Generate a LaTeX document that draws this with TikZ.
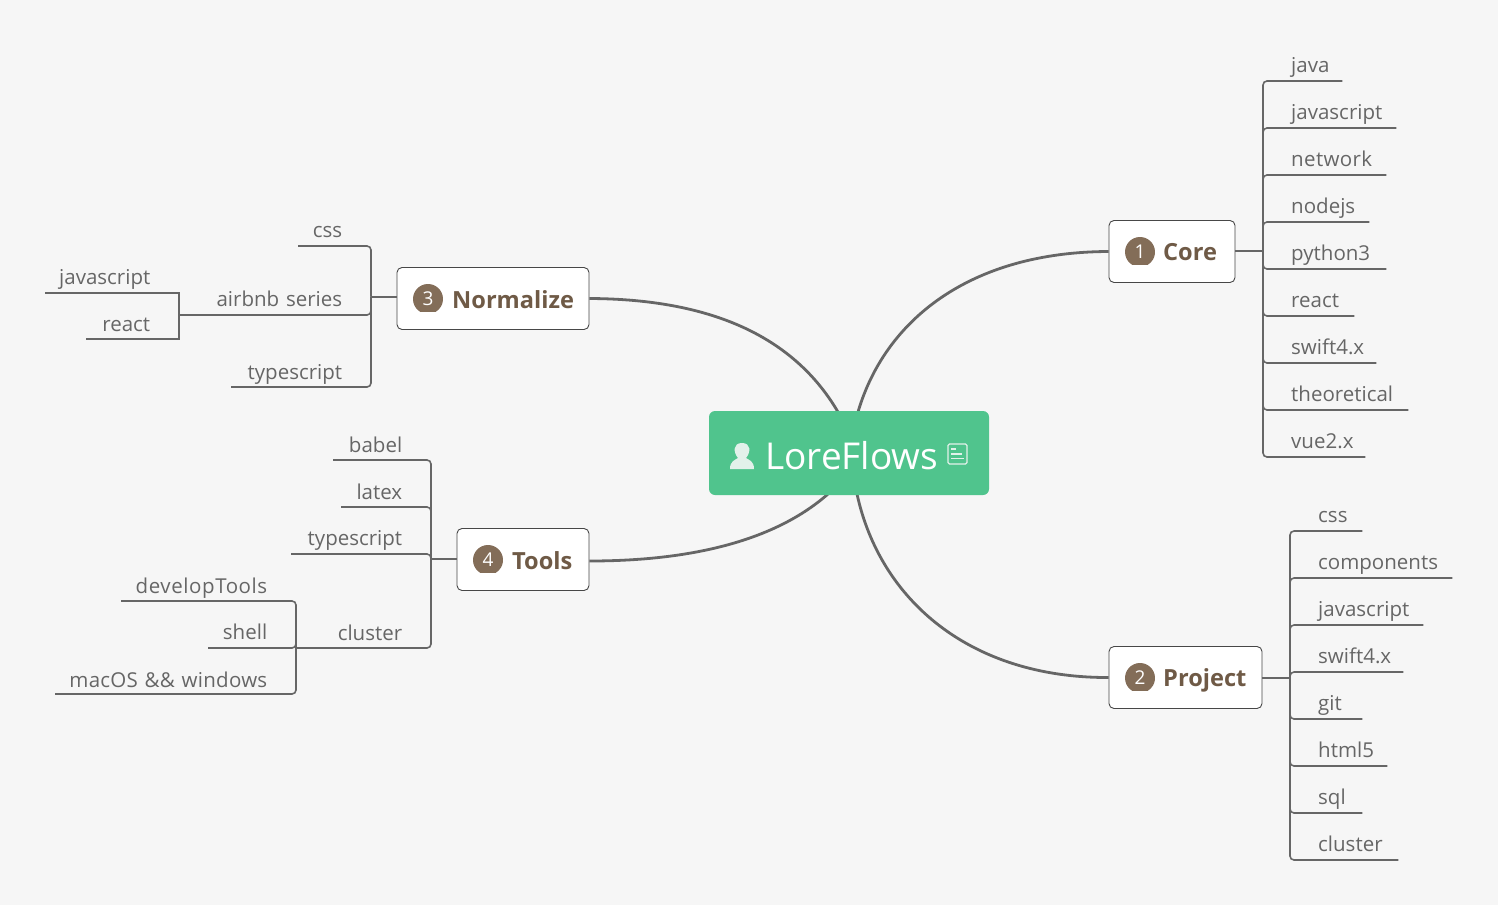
\documentclass[tikz,border=0pt]{standalone}
\usepackage{fontspec}
\setmainfont{Open Sans}
\usetikzlibrary{calc}
\definecolor{bgGrey}{HTML}{F6F6F6}
\definecolor{rootGreen}{HTML}{50C48D}
\definecolor{lineGrey}{HTML}{666666}
\definecolor{textGrey}{HTML}{666666}
\definecolor{topicBrown}{HTML}{6F5A46}
\definecolor{badgeBrown}{HTML}{836D58}
\definecolor{iconPale}{HTML}{E2F1EA}
\tikzset{
  root/.style={fill=rootGreen, rounded corners=6pt, minimum width=280pt, minimum height=84pt, inner sep=0pt},
  topic/.style={draw=black!72, line width=0.9pt, fill=white, rounded corners=5pt, minimum height=62pt, inner sep=0pt},
  topiclabel/.style={anchor=base west, inner sep=0pt, text=topicBrown, font=\fontsize{23.6}{24}\selectfont\bfseries},
  badgenum/.style={inner sep=0pt, text=white, font=\fontsize{19}{19}\selectfont},
  leafr/.style={anchor=south west, inner xsep=14pt, inner ysep=3pt, text=textGrey, text height=15pt, text depth=5pt, text width=#1pt, align=left, font=\fontsize{20.5}{20.5}\selectfont},
  leafl/.style={leafr=#1, align=right},
  toolleaf/.style={leafl=#1, inner ysep=2pt},
  spaced/.style={execute at begin node=\addfontfeature{LetterSpace=#1}},
  curve/.style={draw=lineGrey, line width=2.8pt},
  branch/.style={draw=lineGrey, line width=1.6pt, rounded corners=4pt},
  stub/.style={draw=lineGrey, line width=2pt},
}
% flat bottomed number badge
\newcommand{\badge}[3]{%
  \fill[badgeBrown] (#2) ++(120:15) arc[start angle=120, end angle=420, radius=15] -- cycle;
  \node[badgenum] (#1) at (#2) {#3};
}
\begin{document}
\begin{tikzpicture}[x=1pt, y=-1pt]
\useasboundingbox[fill=white] (0,0) rectangle (1507,910);
\fill[bgGrey] (0,0) rectangle (1498,905);

\coordinate (rootCore) at (858,412);
\coordinate (rootProject) at (857,494);
\coordinate (rootNorm) at (838,412);
\coordinate (rootTools) at (828,494);

% topics
\node[topic, minimum width=126pt] (core) at (1172,251.5) {};
\node[topic, minimum width=153pt] (project) at (1185.5,677.5) {};
\node[topic, minimum width=192pt] (norm) at (493,298.5) {};
\node[topic, minimum width=132pt] (tools) at (523,559.5) {};

\draw[curve] (rootCore) .. controls (885,320) and (970,252) .. (core.west);
\draw[curve] (rootProject) .. controls (880,600) and (970,678) .. (project.west);
\draw[curve] (rootNorm) .. controls (790,330) and (700,299) .. (norm.east);
\draw[curve] (rootTools) .. controls (770,545) and (680,561) .. ($(tools.east)+(0,1.5)$);

\node[root] (main) at (849,453) {};
\node[anchor=west, inner sep=0pt, text=white, font=\fontsize{37}{37}\selectfont] (mainText) at (765,456) {LoreFlows};
\fill[iconPale] (730,469) .. controls (730,461) and (735,460) .. (738,458) .. controls (733,452) and (733,443) .. (742,443)
  .. controls (751,443) and (751,452) .. (746,458) .. controls (749,460) and (754,461) .. (754,469) -- cycle;
\draw[iconPale, line width=1.1pt, rounded corners=1.5pt] (948,444) rectangle (967,464);
\draw[iconPale, line width=1.1pt] (951,449) -- (956,449) (951,454) -- (962,454) (951,458.5) -- (964,458.5);

\badge{coreNum}{1140,252}{1}
\node[topiclabel] (coreText) at (1163,260.8) {Core};
\badge{projectNum}{1140,678}{2}
\node[topiclabel] (projectText) at (1163,686.8) {Project};
\badge{normNum}{428,299}{3}
\node[topiclabel] (normText) at (452,308) {Normalize};
\badge{toolsNum}{488,560}{4}
\node[topiclabel] (toolsText) at (512,569) {Tools};

% core
\coordinate (coreJoin) at (1263,251);
\draw[stub] (coreJoin -| core.east) -- (coreJoin);
\node[leafr=37] (java) at (1277,81) {java};
\node[leafr=91] (javascript) at (1277,128) {javascript};
\node[leafr=81, spaced=1.7] (network) at (1277,175) {network};
\node[leafr=64] (nodejs) at (1277,222) {nodejs};
\node[leafr=81] (python) at (1277,269) {python3};
\node[leafr=49] (react) at (1277,316) {react};
\node[leafr=71] (swift) at (1277,363) {swift4.x};
\node[leafr=103] (theoretical) at (1277,410) {theoretical};
\node[leafr=60] (vue) at (1277,457) {vue2.x};
\foreach \leaf in {java,javascript,network,nodejs,python,react,swift,theoretical,vue}
  \draw[branch] (coreJoin) |- (\leaf.south east);

% project
\coordinate (projectJoin) at (1290,678);
\draw[stub] (projectJoin -| project.east) -- (projectJoin);
\node[leafr=30] (pCss) at (1304,531) {css};
\node[leafr=120] (pComponents) at (1304,578) {components};
\node[leafr=91] (pJavascript) at (1304,625) {javascript};
\node[leafr=71] (pSwift) at (1304,672) {swift4.x};
\node[leafr=30] (pGit) at (1304,719) {git};
\node[leafr=55] (pHtml) at (1304,766) {html5};
\node[leafr=30] (pSql) at (1304,813) {sql};
\node[leafr=66] (pCluster) at (1304,860) {cluster};
\foreach \leaf in {pCss,pComponents,pJavascript,pSwift,pGit,pHtml,pSql,pCluster}
  \draw[branch] (projectJoin) |- (\leaf.south east);

% normalize
\coordinate (normJoin) at (371,296.5);
\draw[stub] (normJoin -| norm.west) -- (normJoin);
\node[leafl=30] (nCss) at (298,246) {css};
\node[leafl=132] (nAirbnb) at (196,315) {airbnb series};
\node[leafl=97, inner ysep=2pt] (nType) at (231,387) {typescript};
\foreach \leaf in {nCss,nAirbnb,nType}
  \draw[branch] (normJoin) |- (\leaf.south west);
\coordinate (airbnbJoin) at (179,315);
\draw[branch] (nAirbnb.south west) -- (airbnbJoin);
\node[leafl=91] (nJavascript) at (45,293) {javascript};
\node[leafl=50, inner ysep=2pt] (nReact) at (86,339) {react};
\foreach \leaf in {nJavascript,nReact}
  \draw[branch, rounded corners=0pt] (airbnbJoin) |- (\leaf.south west);

% tools
\coordinate (toolsJoin) at (431,559);
\draw[stub] (toolsJoin -| tools.west) -- (toolsJoin);
\node[toolleaf=55] (tBabel) at (333,460) {babel};
\node[toolleaf=47] (tLatex) at (341,507) {latex};
\node[leafl=97] (tType) at (291,554) {typescript};
\node[toolleaf=66] (tCluster) at (322,648) {cluster};
\foreach \leaf in {tBabel,tLatex,tType,tCluster}
  \draw[branch] (toolsJoin) |- (\leaf.south west);
\coordinate (clusterJoin) at (296,648);
\draw[branch] (tCluster.south west) -- (clusterJoin);
\node[toolleaf=132, spaced=2.8] (tDevelop) at (121,601) {developTools};
\node[leafl=45] (tShell) at (208,648) {shell};
\node[leafl=198, inner ysep=1pt, spaced=1.2] (tMac) at (55,694) {macOS \&\& windows};
\foreach \leaf in {tDevelop,tShell,tMac}
  \draw[branch] (clusterJoin) |- (\leaf.south west);
\end{tikzpicture}
\end{document}
